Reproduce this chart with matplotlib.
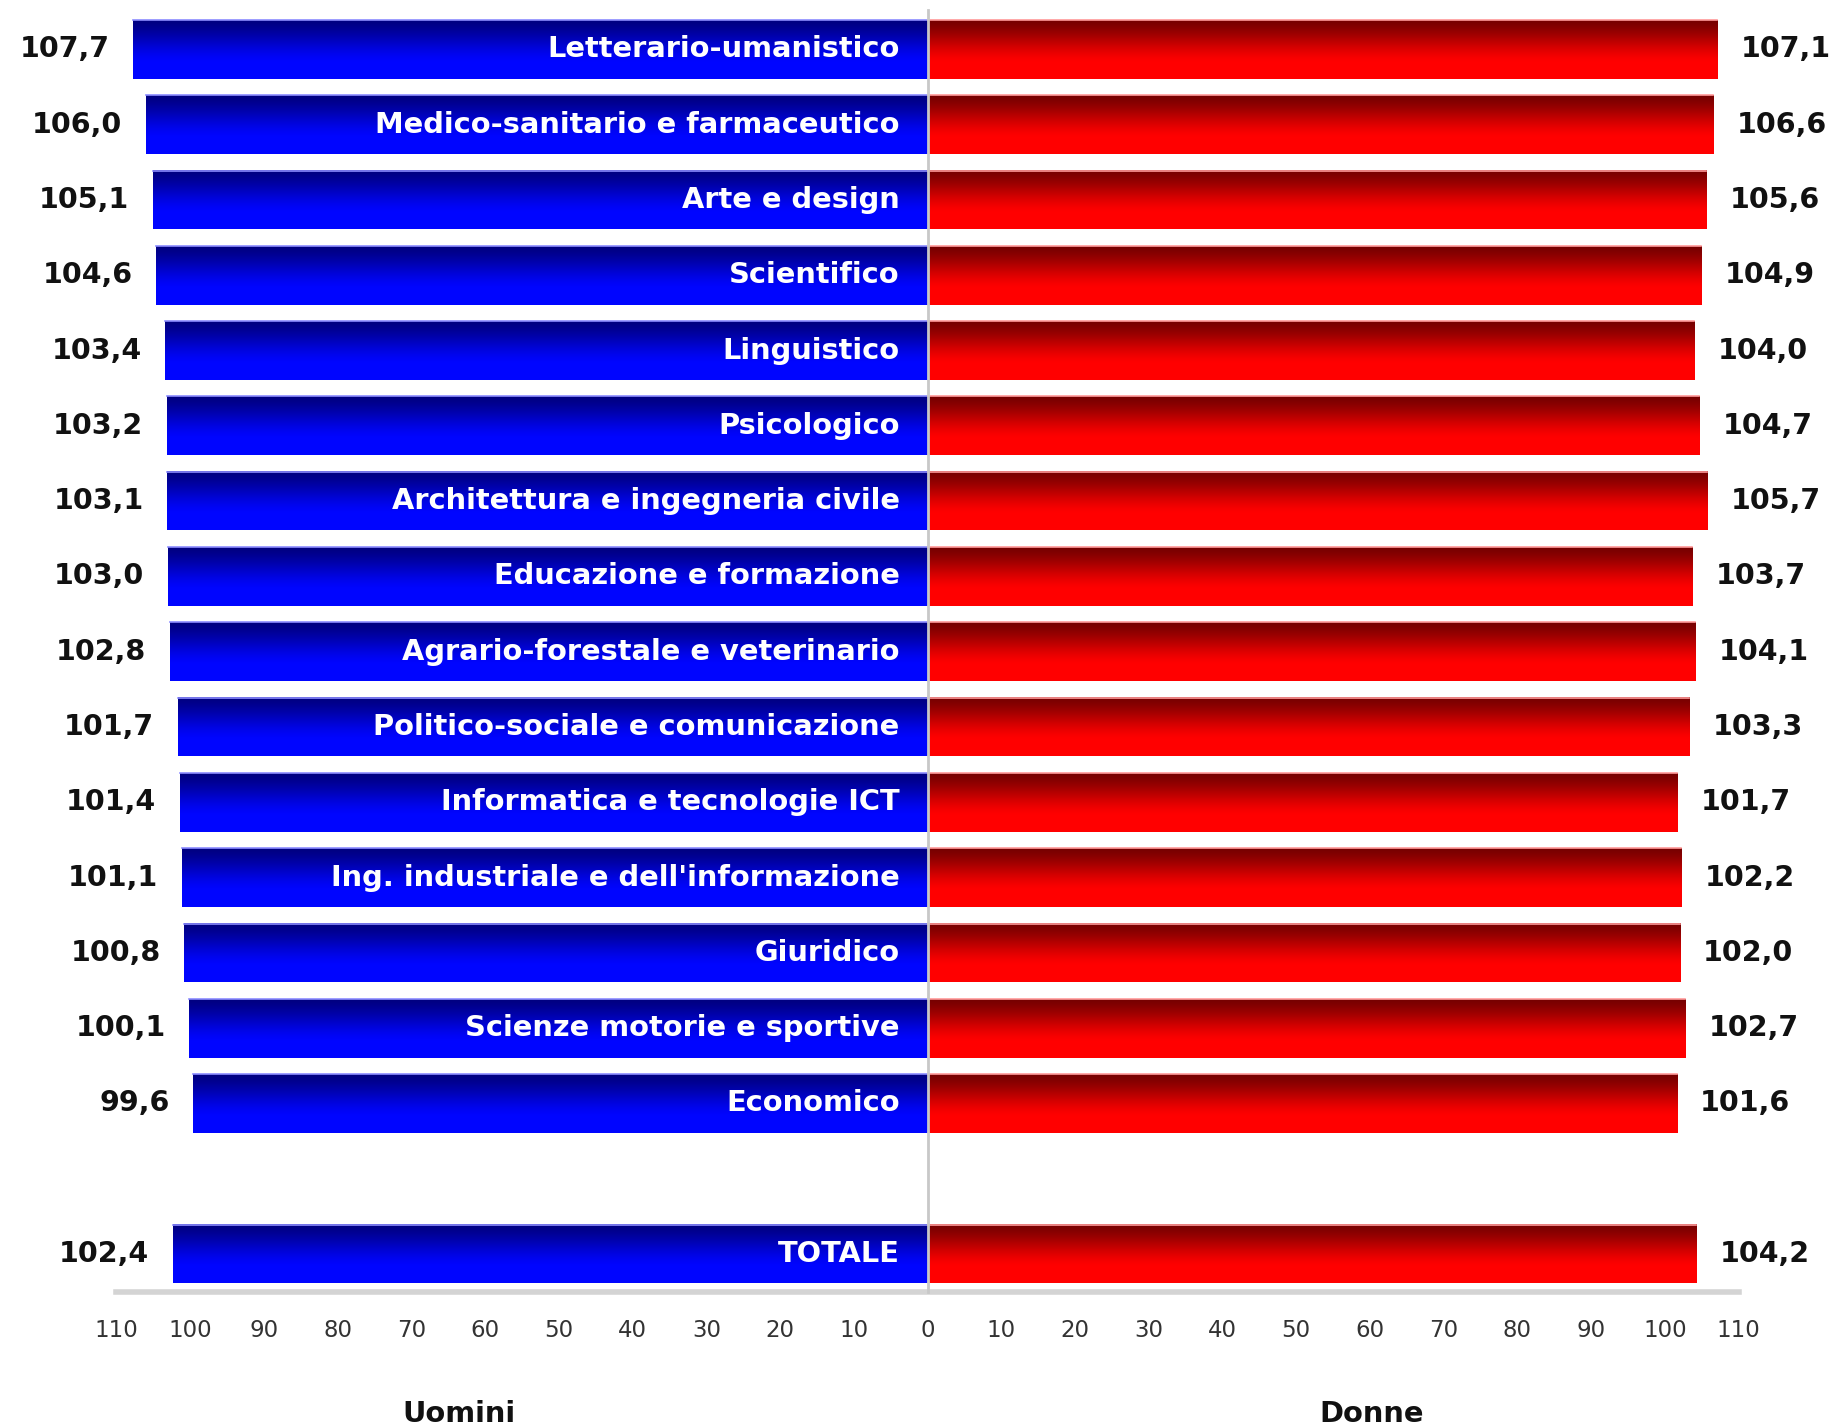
import numpy as np
import matplotlib
matplotlib.use("Agg")
import matplotlib.pyplot as plt

categories = [
    "Letterario-umanistico",
    "Medico-sanitario e farmaceutico",
    "Arte e design",
    "Scientifico",
    "Linguistico",
    "Psicologico",
    "Architettura e ingegneria civile",
    "Educazione e formazione",
    "Agrario-forestale e veterinario",
    "Politico-sociale e comunicazione",
    "Informatica e tecnologie ICT",
    "Ing. industriale e dell'informazione",
    "Giuridico",
    "Scienze motorie e sportive",
    "Economico",
    "TOTALE",
]
uomini = [107.7, 106.0, 105.1, 104.6, 103.4, 103.2, 103.1, 103.0, 102.8,
          101.7, 101.4, 101.1, 100.8, 100.1, 99.6, 102.4]
donne = [107.1, 106.6, 105.6, 104.9, 104.0, 104.7, 105.7, 103.7, 104.1,
         103.3, 101.7, 102.2, 102.0, 102.7, 101.6, 104.2]
tick_values = [-110, -100, -90, -80, -70, -60, -50, -40, -30, -20, -10,
               0, 10, 20, 30, 40, 50, 60, 70, 80, 90, 100, 110]
side_labels = ["Uomini", "Donne"]

plt.rcParams['font.family'] = ['DejaVu Sans']

fig = plt.figure(figsize=(18.41, 14.28), dpi=100)
ax = fig.add_axes([0, 0, 1, 1])

# row positions: one blank row before TOTALE
ypos = list(range(len(categories) - 1)) + [len(categories)]
bar_h = 0.78


def gradient(dark, bright, n=256, stop=0.7):
    t = np.linspace(0, 1, n)
    f = np.clip(t / stop, 0, 1)
    f = f * f * (3 - 2 * f) * 0.5 + f * 0.5
    dark = np.array(dark)
    bright = np.array(bright)
    g = dark[None, :] + (bright - dark)[None, :] * f[:, None]
    return g[:, None, :]


blue_grad = gradient([0.0, 0.0, 0.50], [0.0, 0.02, 1.0])
red_grad = gradient([0.46, 0.0, 0.0], [1.0, 0.0, 0.0])

for y, u, d, cat in zip(ypos, uomini, donne, categories):
    top = y - bar_h / 2
    bot = y + bar_h / 2
    ax.imshow(blue_grad, extent=(-u, 0, bot, top), aspect='auto',
              interpolation='bilinear', zorder=2)
    ax.imshow(red_grad, extent=(0, d, bot, top), aspect='auto',
              interpolation='bilinear', zorder=2)
    ax.plot([-u, 0], [top, top], color='#8c8cff', lw=1.2, zorder=3)
    ax.plot([0, d], [top, top], color='#ff9a9a', lw=1.2, zorder=3)
    ax.annotate(cat, xy=(0, y), xytext=(-20, 0), textcoords='offset points',
                ha='right', va='center', color='white', fontsize=20.8,
                fontweight='bold', zorder=4)
    ax.annotate(f"{u:.1f}".replace('.', ','), xy=(-u, y), xytext=(-17, 0),
                textcoords='offset points', ha='right', va='center',
                color='#111111', fontsize=20.5, fontweight='bold', zorder=4)
    ax.annotate(f"{d:.1f}".replace('.', ','), xy=(d, y), xytext=(17, 0),
                textcoords='offset points', ha='left', va='center',
                color='#111111', fontsize=20.5, fontweight='bold', zorder=4)

# centre line
ax.plot([0, 0], [-0.52, 16.5], color='#c8c8c8', lw=2, zorder=5)

# axis
ax.spines[['top', 'left', 'right']].set_visible(False)
ax.spines['bottom'].set_position(('data', 16.5))
ax.spines['bottom'].set_bounds(-110, 110)
ax.spines['bottom'].set_color('#d4d4d4')
ax.spines['bottom'].set_linewidth(4)
ax.spines['bottom'].set_zorder(1)
ax.set_xticks(tick_values)
ax.set_xticklabels([str(abs(v)) for v in tick_values])
ax.tick_params(axis='x', length=0, pad=20, labelsize=16.5, labelcolor='#333333')
ax.set_yticks([])

ax.text(-63.5, 18.13, side_labels[0], ha='center', va='center',
        fontsize=20.8, fontweight='bold', color='#111111')
ax.text(60.2, 18.13, side_labels[1], ha='center', va='center',
        fontsize=20.8, fontweight='bold', color='#111111')

ax.set_xlim(-125.8, 123.9)
ax.set_ylim(18.31, -0.655)
ax.patch.set_visible(False)

fig.savefig("out.png", dpi=100, facecolor='white')
